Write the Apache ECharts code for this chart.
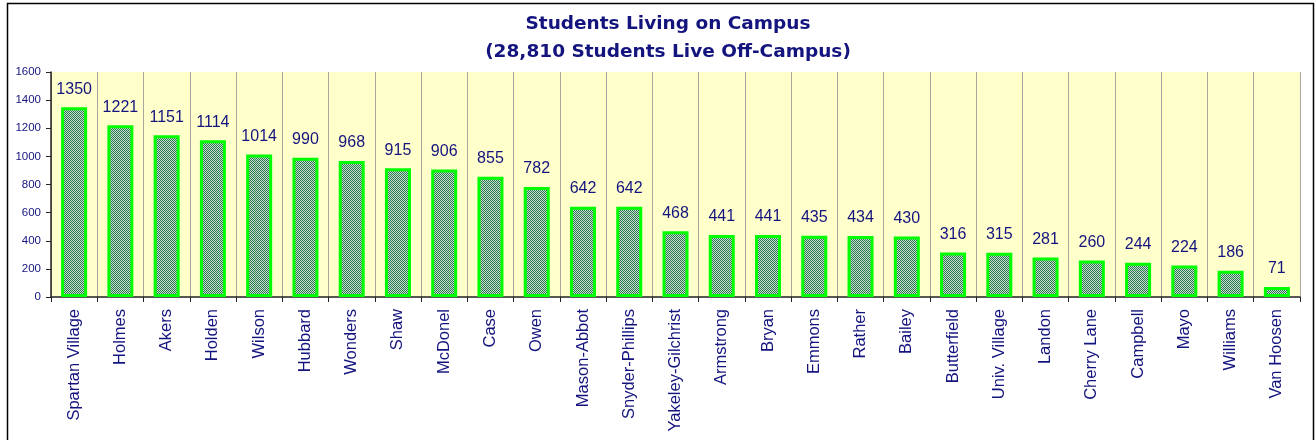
<!DOCTYPE html>
<html><head><meta charset="utf-8">
<script src="https://cdn.jsdelivr.net/npm/echarts@6/dist/echarts.min.js"></script>
<style>html,body{margin:0;padding:0;background:#fff}#c{width:1315px;height:440px}</style>
</head><body><div id="c"></div>
<script>
var categories = ["Spartan Village","Holmes","Akers","Holden","Wilson","Hubbard","Wonders","Shaw","McDonel","Case","Owen","Mason-Abbot","Snyder-Phillips","Yakeley-Gilchrist","Armstrong","Bryan","Emmons","Rather","Bailey","Butterfield","Univ. Village","Landon","Cherry Lane","Campbell","Mayo","Williams","Van Hoosen"];
var students = [1350,1221,1151,1114,1014,990,968,915,906,855,782,642,642,468,441,441,435,434,430,316,315,281,260,244,224,186,71];
var yTicks = [0,200,400,600,800,1000,1200,1400,1600];
var titleText = "Students Living on Campus\n(28,810 Students Live Off-Campus)";

// checker pattern for bar fill
var pc = document.createElement('canvas');
pc.width = 2; pc.height = 2;
var px = pc.getContext('2d');
px.fillStyle = '#cadcd0'; px.fillRect(0,0,2,2);
px.fillStyle = '#267a4e'; px.fillRect(0,0,1,1); px.fillRect(1,1,1,1);

var navy = '#14147e';
var chart = echarts.init(document.getElementById('c'), null, {renderer:'canvas'});
chart.setOption({
  animation:false,
  backgroundColor:'#ffffff',
  title:{text:titleText,left:663,textAlign:'center',top:5,
    textStyle:{fontFamily:'DejaVu Sans',fontSize:18.5,fontWeight:'bold',color:navy,lineHeight:28}},
  graphic:[{type:'rect',shape:{x:7.5,y:3.5,width:1306,height:445},style:{fill:null,stroke:'#000',lineWidth:1.5},z:-1}],
  grid:{left:51,right:15,top:72,bottom:143,show:true,backgroundColor:'#ffffcc',borderWidth:0},
  xAxis:{type:'category',data:categories,
    axisLine:{lineStyle:{color:'#222',width:1.5}},
    axisTick:{show:true,interval:0,length:5,lineStyle:{color:'#222'}},
    splitLine:{show:true,interval:0,lineStyle:{color:'#a8a8a0',width:1}},
    axisLabel:{interval:0,rotate:90,margin:12,fontFamily:'Liberation Sans, Arial',fontSize:16.5,color:navy}},
  yAxis:{type:'value',min:0,max:1600,interval:200,
    axisLine:{show:true,lineStyle:{color:'#222',width:1.5}},
    axisTick:{show:true,length:5,lineStyle:{color:'#222'}},
    splitLine:{show:false},
    axisLabel:{margin:10,fontFamily:'Liberation Sans, Arial',fontSize:11.5,color:navy,
      formatter:function(v){return yTicks.indexOf(v)>=0?String(v):'';}}},
  series:[{type:'bar',data:students,barWidth:26,
    itemStyle:{color:{image:pc,repeat:'repeat'},borderColor:'#00ff00',borderWidth:3},
    label:{show:true,position:'top',distance:10,fontFamily:'Liberation Sans, Arial',fontSize:16,color:navy}}]
});
</script></body></html>
